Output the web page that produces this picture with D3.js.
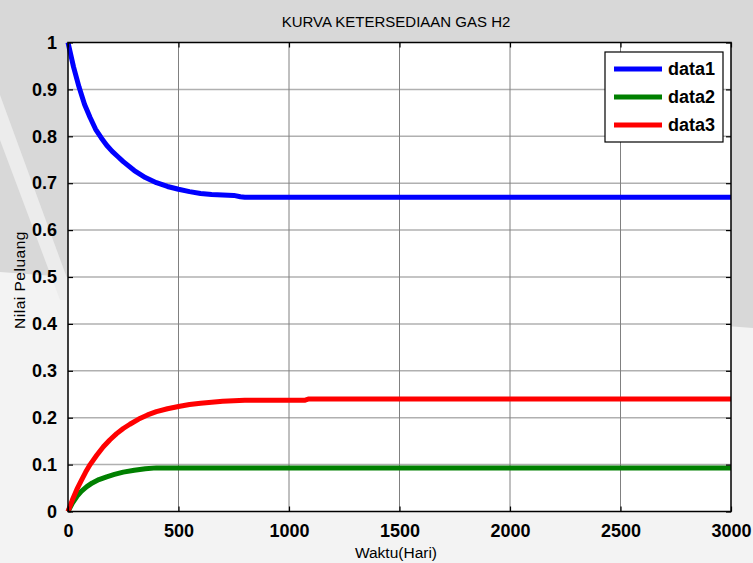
<html lang="en">
<head>
<meta charset="utf-8">
<title>Kurva Ketersediaan Gas H2</title>
<style>
  body { margin: 0; background: #f3f3f3; }
  svg text { font-family: Arial, "Liberation Sans", sans-serif; }
</style>
<script type="text/javascript" src="https://d3js.org/d3.v7.min.js"></script>
</head>
<body>
<svg width="753" height="563" id="chart"></svg>
<script type="text/javascript">

// data (Waktu in hari, Nilai Peluang)
var data1_t = [0, 25, 50, 75, 100, 125, 150, 175, 200, 225, 250, 300, 350, 400, 450, 500, 550, 600, 650, 700, 750, 780, 800, 3000];
var data1_v = [1.0, 0.948, 0.905, 0.868, 0.84, 0.815, 0.797, 0.781, 0.768, 0.757, 0.746, 0.727, 0.712, 0.701, 0.693, 0.687, 0.682, 0.678, 0.676, 0.675, 0.674, 0.671, 0.670, 0.670];

var data2_t = [0, 20, 40, 60, 85, 110, 140, 175, 210, 250, 300, 350, 400, 3000];
var data2_v = [0, 0.018, 0.032, 0.043, 0.053, 0.061, 0.068, 0.074, 0.079, 0.084, 0.088, 0.091, 0.093, 0.093];

var data3_t = [0, 20, 40, 60, 80, 100, 130, 160, 190, 220, 250, 280, 320, 360, 400, 450, 500, 550, 600, 650, 700, 750, 800, 900, 1000, 1070, 1090, 3000];
var data3_v = [0, 0.025, 0.047, 0.066, 0.084, 0.10, 0.12, 0.138, 0.153, 0.166, 0.177, 0.186, 0.197, 0.206, 0.213, 0.219, 0.224, 0.228, 0.231, 0.233, 0.235, 0.236, 0.237, 0.237, 0.237, 0.237, 0.240, 0.240];

var seriesNames = ["data1", "data2", "data3"];
var seriesColors = ["#0000ff", "#008000", "#ff0000"];
var xTicks = [0, 500, 1000, 1500, 2000, 2500, 3000];
var yTicks = [0, 0.1, 0.2, 0.3, 0.4, 0.5, 0.6, 0.7, 0.8, 0.9, 1];

var titleText = "KURVA KETERSEDIAAN GAS H2";
var xLabel = "Waktu(Hari)";
var yLabel = "Nilai Peluang";

var margin = {top: 42.5, right: 22, bottom: 51.5, left: 68};
var W = 753, H = 563;
var width = W - margin.left - margin.right,
    height = H - margin.top - margin.bottom;

var svg = d3.select("#chart");

// figure background (grey top, washed-out lower part)
svg.append("rect").attr("width", W).attr("height", H).attr("fill", "#f3f3f3");
svg.append("polygon")
  .attr("points", "0,0 753,0 753,328 0,272")
  .attr("fill", "#d8d8d8");
svg.append("polygon")
  .attr("points", "0,95 0,140 60,300 75,300")
  .attr("fill", "#ececec");

var g = svg.append("g")
  .attr("transform", "translate(" + margin.left + "," + margin.top + ")");

var x = d3.scaleLinear().domain([0, 3000]).range([0, width]);
var y = d3.scaleLinear().domain([0, 1]).range([height, 0]);

// axes area
g.append("rect").attr("width", width).attr("height", height).attr("fill", "white");

// grid
g.selectAll(".hgrid")
  .data(yTicks.slice(1, -1))
  .enter()
  .append("line")
    .attr("x1", 0).attr("x2", width)
    .attr("y1", function(d) { return y(d); })
    .attr("y2", function(d) { return y(d); })
    .attr("stroke", "#b0b0b0")
    .attr("stroke-width", 1.5);
g.selectAll(".vgrid")
  .data(xTicks.slice(1, -1))
  .enter()
  .append("line")
    .attr("y1", 0).attr("y2", height)
    .attr("x1", function(d) { return x(d); })
    .attr("x2", function(d) { return x(d); })
    .attr("stroke", "#808080")
    .attr("stroke-width", 1);

// lines
var series = [
  {name: seriesNames[0], t: data1_t, v: data1_v, color: seriesColors[0]},
  {name: seriesNames[1], t: data2_t, v: data2_v, color: seriesColors[1]},
  {name: seriesNames[2], t: data3_t, v: data3_v, color: seriesColors[2]}
];

var line = d3.line()
  .x(function(d) { return x(d[0]); })
  .y(function(d) { return y(d[1]); });

g.selectAll(".series")
  .data(series)
  .enter()
  .append("path")
    .attr("class", "series")
    .attr("d", function(s) { return line(d3.zip(s.t, s.v)); })
    .attr("fill", "none")
    .attr("stroke", function(s) { return s.color; })
    .attr("stroke-width", 5)
    .attr("stroke-linejoin", "round");

// axes with inward ticks on all four sides
var tickStyle = function(sel) {
  sel.select(".domain").remove();
  sel.selectAll("line").attr("stroke", "black").attr("stroke-width", 1.2);
};
g.append("g")
  .attr("transform", "translate(0," + height + ")")
  .call(d3.axisBottom(x).tickValues(xTicks).tickSize(-5).tickPadding(8).tickFormat(d3.format("d")))
  .call(tickStyle)
  .selectAll("text")
    .style("font-size", "18px").style("font-weight", "bold").attr("fill", "black")
    .attr("dy", "0.95em");
g.append("g")
  .call(d3.axisTop(x).tickValues(xTicks).tickSize(-5).tickFormat(""))
  .call(tickStyle);
g.append("g")
  .call(d3.axisLeft(y).tickValues(yTicks).tickSize(-5).tickPadding(11).tickFormat(function(d) { return d3.format("~g")(d); }))
  .call(tickStyle)
  .selectAll("text")
    .style("font-size", "18px").style("font-weight", "bold").attr("fill", "black");
g.append("g")
  .attr("transform", "translate(" + width + ",0)")
  .call(d3.axisRight(y).tickValues(yTicks).tickSize(-5).tickFormat(""))
  .call(tickStyle);

// frame
g.append("rect").attr("width", width).attr("height", height)
  .attr("fill", "none").attr("stroke", "black").attr("stroke-width", 1.5);

// labels
svg.append("text")
  .attr("x", 396).attr("y", 27)
  .attr("text-anchor", "middle")
  .style("font-size", "15px")
  .text(titleText);
svg.append("text")
  .attr("x", 396).attr("y", 558)
  .attr("text-anchor", "middle")
  .style("font-size", "15.5px")
  .text(xLabel);
svg.append("text")
  .attr("transform", "translate(25,280) rotate(-90)")
  .attr("text-anchor", "middle")
  .style("font-size", "15.5px")
  .style("letter-spacing", "0.5px")
  .text(yLabel);

// legend
var legend = svg.append("g").attr("transform", "translate(605,52)");
legend.append("rect").attr("width", 118).attr("height", 90)
  .attr("fill", "white").attr("stroke", "black").attr("stroke-width", 1.2);
var rows = legend.selectAll(".row")
  .data(series)
  .enter()
  .append("g")
    .attr("transform", function(d, i) { return "translate(0," + (17 + i * 28) + ")"; });
rows.append("line")
  .attr("x1", 9).attr("x2", 57)
  .attr("stroke", function(d) { return d.color; })
  .attr("stroke-width", 5);
rows.append("text")
  .attr("x", 63).attr("dy", "0.36em")
  .style("font-size", "18px").style("font-weight", "bold")
  .text(function(d) { return d.name; });

</script>
</body>
</html>
